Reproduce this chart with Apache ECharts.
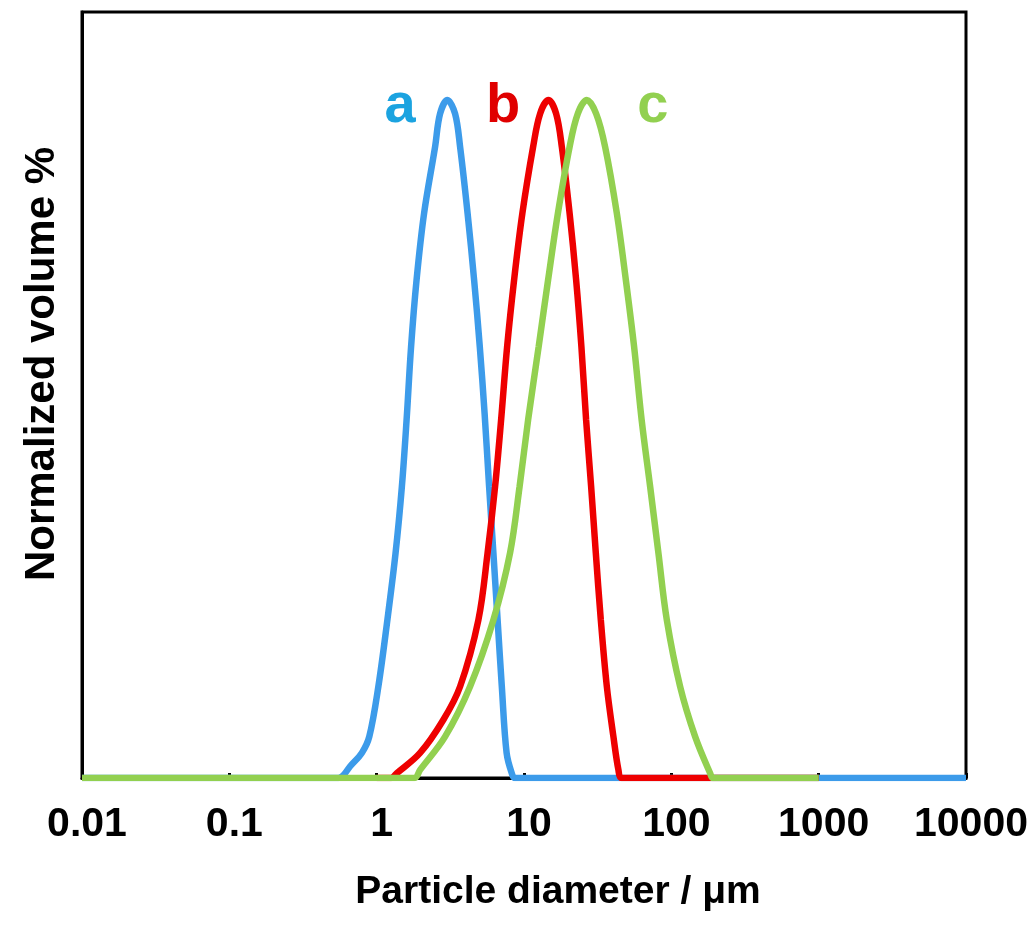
<!DOCTYPE html>
<html lang="en">
<head>
    <meta charset="UTF-8">
    <title>Particle size distribution</title>
    <script src="https://cdn.jsdelivr.net/npm/echarts@6/dist/echarts.min.js"></script>
</head>
<body style="margin: 0; background-color: #FFFFFF">
<div id="container" style="width: 1035px; height: 926px"></div>
<script type="text/javascript">
    // diameters in um, volume normalized to the peak (=100)
    let aDiam = [0.01, 0.55, 0.594, 0.659, 0.793, 0.891, 1.027, 1.182, 1.344, 1.483, 1.596, 1.712, 1.866, 2.098, 2.491, 2.694, 3.02, 3.405, 3.684, 4.141, 4.584, 5.012, 5.401, 5.797, 6.198, 6.62, 7.07, 7.62, 8.26, 8.7, 10000];
    let aVol = [0, 0, 0.4, 1.7, 3.7, 6.1, 13.5, 23.3, 33.2, 43.0, 52.8, 63.6, 73.5, 83.3, 93.1, 98.0, 100, 98.0, 93.1, 83.3, 73.5, 63.6, 53.8, 43.0, 33.2, 23.3, 13.5, 3.7, 0.7, 0, 0];

    let bDiam = [1, 1.25, 1.369, 1.971, 2.837, 3.684, 4.90, 5.661, 6.365, 6.991, 7.68, 8.568, 9.75, 11.53, 12.86, 14.65, 16.52, 18.06, 20.40, 22.58, 24.53, 26.4, 28.55, 30.72, 33.22, 36.49, 40.45, 43.74, 46, 1000];
    let bVol = [0, 0, 0.7, 3.7, 8.6, 13.5, 23.3, 33.2, 43.0, 52.8, 63.6, 73.5, 83.3, 93.1, 98.0, 100, 98.0, 93.1, 83.3, 73.5, 63.6, 52.8, 43.0, 33.2, 23.3, 13.5, 6.1, 1.2, 0, 0];

    let cDiam = [0.01, 1.8, 1.971, 2.913, 4.306, 6.198, 8.043, 9.335, 10.66, 12.57, 14.58, 16.99, 20.40, 23.19, 26.69, 30.87, 35.53, 42.66, 49.1, 55.9, 62.9, 71.8, 81.7, 93.2, 114.7, 145.1, 183.4, 192, 1000];
    let cVol = [0, 0, 1.2, 6.1, 13.5, 23.3, 33.2, 43.0, 52.8, 63.6, 73.5, 83.3, 93.1, 98.0, 100, 98.0, 93.1, 83.3, 73.5, 63.6, 52.8, 43.0, 33.2, 23.3, 13.5, 6.1, 0.7, 0, 0];

    let xTicks = [0.01, 0.1, 1, 10, 100, 1000, 10000];
    let tags = ['a', 'b', 'c'];
    let tagPos = [[1.44, 99], [7.21, 99], [75, 99]];

    function zip(xs, ys) {
        let out = [];
        for (let i = 0; i < xs.length; i++) {
            out.push([xs[i], ys[i]]);
        }
        return out;
    }

    let font = 'Arial, "Liberation Sans", sans-serif';
    let lineColors = ['#3C9BEA', '#EE0000', '#92D050'];
    let tagColors = ['#1BA3E0', '#E00000', '#92D050'];
    let datas = [zip(aDiam, aVol), zip(bDiam, bVol), zip(cDiam, cVol)];

    let series = [];
    for (let i = 0; i < 3; i++) {
        series.push({
            name: tags[i],
            type: 'line',
            data: datas[i],
            smooth: 0.35,
            showSymbol: false,
            lineStyle: {width: 6.5, color: lineColors[i]},
            itemStyle: {color: lineColors[i]},
            markPoint: {
                symbol: 'circle',
                symbolSize: 0,
                data: [{coord: tagPos[i], value: tags[i]}],
                label: {
                    show: true,
                    position: 'inside',
                    formatter: tags[i],
                    fontFamily: font,
                    fontSize: 56,
                    fontWeight: 'bold',
                    color: tagColors[i]
                }
            }
        });
    }

    let myChart = echarts.init(document.getElementById('container'));
    let option = {
        animation: false,
        grid: {
            left: 82, right: 69, top: 12, bottom: 148,
            show: true, borderColor: '#000', borderWidth: 3, backgroundColor: '#fff'
        },
        xAxis: {
            type: 'log',
            logBase: 10,
            min: 0.01,
            max: 10000,
            name: 'Particle diameter / μm',
            nameLocation: 'middle',
            nameGap: 95,
            nameTextStyle: {
                fontFamily: font, fontSize: 39, fontWeight: 'bold', color: '#000',
                padding: [0, 0, 0, 68]
            },
            axisLine: {lineStyle: {color: '#000', width: 3}},
            axisTick: {inside: true, length: 5, lineStyle: {color: '#000', width: 3}},
            splitLine: {show: false},
            axisLabel: {
                margin: 26,
                padding: [0, 0, 0, 10],
                fontFamily: font, fontSize: 41, fontWeight: 'bold', color: '#000',
                formatter: function (v) {
                    for (let t of xTicks) {
                        if (Math.abs(Math.log10(v) - Math.log10(t)) < 1e-6) return String(t);
                    }
                    return '';
                }
            }
        },
        yAxis: {
            type: 'value',
            min: 0,
            max: 113,
            name: 'Normalized volume %',
            nameLocation: 'middle',
            nameRotate: 90,
            nameGap: 19,
            nameTextStyle: {
                fontFamily: font, fontSize: 42, fontWeight: 'bold', color: '#000',
                padding: [0, 0, 0, 62]
            },
            axisLine: {show: true, lineStyle: {color: '#000', width: 3}},
            axisTick: {show: false},
            axisLabel: {show: false},
            splitLine: {show: false}
        },
        series: series
    };
    myChart.setOption(option);
</script>
</body>
</html>
